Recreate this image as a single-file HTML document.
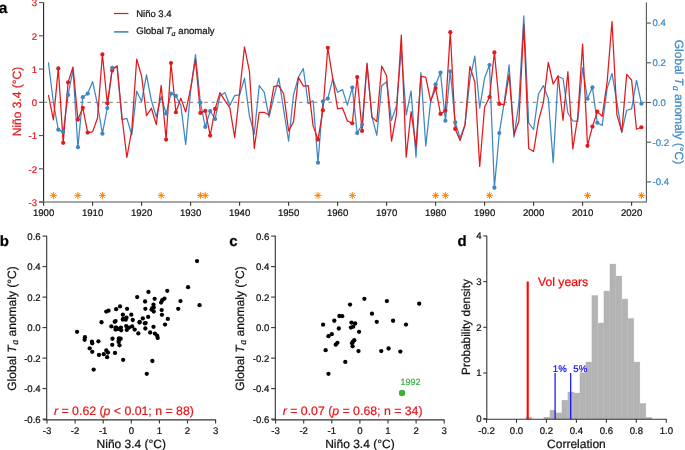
<!DOCTYPE html><html><head><meta charset="utf-8"><style>html,body{margin:0;padding:0;background:#fff;}svg{display:block;will-change:transform;}text{font-family:"Liberation Sans",sans-serif;text-rendering:geometricPrecision;}</style></head><body>
<svg width="685" height="450" viewBox="0 0 685 450">
<rect width="685" height="450" fill="#fff"/>
<text x="-1.2" y="12.9" font-size="15.5" font-weight="bold" fill="#000" stroke="#000" stroke-width="0.22">a</text>
<line x1="43.6" y1="102.3" x2="646.4" y2="102.3" stroke="#6e6e6e" stroke-width="0.9" stroke-dasharray="3.65 3.65"/>
<polyline points="48.5,62.8 53.4,102.5 58.3,129.69 63.2,131.88 68.1,94.96 73,69.95 77.9,147.16 82.8,97.14 87.7,93.57 92.6,81.66 97.5,104.48 102.4,133.66 107.3,108.06 112.2,67.96 117.1,66.77 122,119.57 126.9,118.38 131.8,135.05 136.7,91.19 141.6,101.51 146.5,74.91 151.4,100.52 156.3,116.99 161.2,96.55 166.1,113.62 171,93.57 175.9,95.95 180.8,105.08 185.7,144.38 190.6,90.59 195.5,54.66 200.4,102.5 205.3,126.92 210.2,111.04 215.1,118.98 220,95.95 224.9,92.58 229.8,105.48 234.7,95.55 239.6,94.96 244.5,78.08 249.4,116 254.3,134.06 259.2,85.63 264.1,91.98 269,116.99 273.9,96.94 278.8,78.08 283.7,110.04 288.6,141.01 293.5,94.96 298.4,77.09 303.3,68.56 308.2,103.69 313.1,100.91 318,162.65 322.9,101.31 327.8,98.53 332.7,79.08 337.6,92.18 342.5,89.6 347.4,105.08 352.3,87.61 357.2,133.07 362.1,124.73 367,64.78 371.9,116.39 376.8,135.45 381.7,85.83 386.6,81.66 391.5,120.36 396.4,106.07 401.3,49.9 406.2,115.01 411.1,90.99 416,157.09 420.9,72.53 425.8,145.97 430.7,100.91 435.6,84.44 440.5,72.53 445.4,120.76 450.3,71.34 455.2,122.35 460.1,138.03 465,124.93 469.9,79.67 474.8,56.05 479.7,108.06 484.6,78.08 489.5,64.98 494.4,187.66 499.3,133.07 504.2,102.5 509.1,64.98 514,137.04 518.9,102.5 523.8,15.95 528.7,122.95 533.6,129.5 538.5,93.96 543.4,85.63 548.3,98.53 553.2,162.65 558.1,76.5 563,78.48 567.9,113.02 572.8,120.76 577.7,121.36 582.6,67.96 587.5,98.73 592.4,87.41 597.3,122.75 602.2,125.53 607.1,88.61 612,73.32 616.9,102.5 621.8,132.28 626.7,110.24 631.6,108.85 636.5,80.47 641.4,103.69" fill="none" stroke="#3d87c4" stroke-width="1.25" stroke-linejoin="round" stroke-linecap="round"/>
<polyline points="48.5,95.32 53.4,119.92 58.3,68.38 63.2,142.87 68.1,82.35 73,67.05 77.9,119.59 82.8,107.95 87.7,132.56 92.6,131.89 97.5,117.93 102.4,54.42 107.3,103.3 112.2,70.38 117.1,65.72 122,117.26 126.9,157.5 131.8,129.9 136.7,59.07 141.6,76.03 146.5,115.6 151.4,108.28 156.3,124.58 161.2,85.34 166.1,139.54 171,63.06 175.9,112.27 180.8,98.31 185.7,111.94 190.6,88.67 195.5,59.74 200.4,112.94 205.3,110.94 210.2,135.55 215.1,108.95 220,92.66 224.9,100.64 229.8,107.62 234.7,137.55 239.6,92.33 244.5,46.77 249.4,71.05 254.3,148.52 259.2,112.27 264.1,112.27 269,114.94 273.9,86.34 278.8,85.67 283.7,93.99 288.6,130.89 293.5,121.92 298.4,77.36 303.3,86.01 308.2,85.67 313.1,125.91 318,139.54 322.9,110.28 327.8,47.77 332.7,78.36 337.6,108.95 342.5,107.95 347.4,120.92 352.3,123.25 357.2,77.03 362.1,130.89 367,63.06 371.9,116.93 376.8,121.58 381.7,66.06 386.6,75.7 391.5,141.2 396.4,114.27 401.3,35.13 406.2,157.16 411.1,111.61 416,146.85 420.9,76.03 425.8,77.36 430.7,101.3 435.6,88 440.5,113.94 445.4,110.61 450.3,32.14 455.2,128.9 460.1,140.54 465,124.91 469.9,66.39 474.8,82.02 479.7,166.47 484.6,107.29 489.5,96.98 494.4,52.42 499.3,103.96 504.2,104.96 509.1,74.7 514,134.88 518.9,120.92 523.8,24.5 528.7,148.52 533.6,151.51 538.5,120.92 543.4,102.3 548.3,62.4 553.2,84.01 558.1,75.7 563,120.25 567.9,71.71 572.8,148.85 577.7,117.26 582.6,44.11 587.5,145.86 592.4,126.57 597.3,111.61 602.2,116.27 607.1,82.35 612,21.5 616.9,114.6 621.8,131.89 626.7,74.37 631.6,80.02 636.5,129.23 641.4,127.24" fill="none" stroke="#e3191c" stroke-width="1.25" stroke-linejoin="round" stroke-linecap="round"/>
<circle cx="58.3" cy="68.38" r="2.1" fill="#e3191c"/>
<circle cx="63.2" cy="142.87" r="2.1" fill="#e3191c"/>
<circle cx="68.1" cy="82.35" r="2.1" fill="#e3191c"/>
<circle cx="77.9" cy="119.59" r="2.1" fill="#e3191c"/>
<circle cx="82.8" cy="107.95" r="2.1" fill="#e3191c"/>
<circle cx="87.7" cy="132.56" r="2.1" fill="#e3191c"/>
<circle cx="102.4" cy="54.42" r="2.1" fill="#e3191c"/>
<circle cx="107.3" cy="103.3" r="2.1" fill="#e3191c"/>
<circle cx="112.2" cy="70.38" r="2.1" fill="#e3191c"/>
<circle cx="166.1" cy="139.54" r="2.1" fill="#e3191c"/>
<circle cx="171" cy="63.06" r="2.1" fill="#e3191c"/>
<circle cx="175.9" cy="112.27" r="2.1" fill="#e3191c"/>
<circle cx="200.4" cy="112.94" r="2.1" fill="#e3191c"/>
<circle cx="205.3" cy="110.94" r="2.1" fill="#e3191c"/>
<circle cx="210.2" cy="135.55" r="2.1" fill="#e3191c"/>
<circle cx="215.1" cy="108.95" r="2.1" fill="#e3191c"/>
<circle cx="318" cy="139.54" r="2.1" fill="#e3191c"/>
<circle cx="322.9" cy="110.28" r="2.1" fill="#e3191c"/>
<circle cx="327.8" cy="47.77" r="2.1" fill="#e3191c"/>
<circle cx="352.3" cy="123.25" r="2.1" fill="#e3191c"/>
<circle cx="357.2" cy="77.03" r="2.1" fill="#e3191c"/>
<circle cx="362.1" cy="130.89" r="2.1" fill="#e3191c"/>
<circle cx="435.6" cy="88" r="2.1" fill="#e3191c"/>
<circle cx="440.5" cy="113.94" r="2.1" fill="#e3191c"/>
<circle cx="445.4" cy="110.61" r="2.1" fill="#e3191c"/>
<circle cx="450.3" cy="32.14" r="2.1" fill="#e3191c"/>
<circle cx="455.2" cy="128.9" r="2.1" fill="#e3191c"/>
<circle cx="489.5" cy="96.98" r="2.1" fill="#e3191c"/>
<circle cx="494.4" cy="52.42" r="2.1" fill="#e3191c"/>
<circle cx="499.3" cy="103.96" r="2.1" fill="#e3191c"/>
<circle cx="587.5" cy="145.86" r="2.1" fill="#e3191c"/>
<circle cx="592.4" cy="126.57" r="2.1" fill="#e3191c"/>
<circle cx="597.3" cy="111.61" r="2.1" fill="#e3191c"/>
<circle cx="641.4" cy="127.24" r="2.1" fill="#e3191c"/>
<circle cx="58.3" cy="129.69" r="2.1" fill="#3d87c4"/>
<circle cx="63.2" cy="131.88" r="2.1" fill="#3d87c4"/>
<circle cx="68.1" cy="94.96" r="2.1" fill="#3d87c4"/>
<circle cx="77.9" cy="147.16" r="2.1" fill="#3d87c4"/>
<circle cx="82.8" cy="97.14" r="2.1" fill="#3d87c4"/>
<circle cx="87.7" cy="93.57" r="2.1" fill="#3d87c4"/>
<circle cx="102.4" cy="133.66" r="2.1" fill="#3d87c4"/>
<circle cx="107.3" cy="108.06" r="2.1" fill="#3d87c4"/>
<circle cx="112.2" cy="67.96" r="2.1" fill="#3d87c4"/>
<circle cx="166.1" cy="113.62" r="2.1" fill="#3d87c4"/>
<circle cx="171" cy="93.57" r="2.1" fill="#3d87c4"/>
<circle cx="175.9" cy="95.95" r="2.1" fill="#3d87c4"/>
<circle cx="200.4" cy="102.5" r="2.1" fill="#3d87c4"/>
<circle cx="205.3" cy="126.92" r="2.1" fill="#3d87c4"/>
<circle cx="210.2" cy="111.04" r="2.1" fill="#3d87c4"/>
<circle cx="215.1" cy="118.98" r="2.1" fill="#3d87c4"/>
<circle cx="318" cy="162.65" r="2.1" fill="#3d87c4"/>
<circle cx="322.9" cy="101.31" r="2.1" fill="#3d87c4"/>
<circle cx="327.8" cy="98.53" r="2.1" fill="#3d87c4"/>
<circle cx="352.3" cy="87.61" r="2.1" fill="#3d87c4"/>
<circle cx="357.2" cy="133.07" r="2.1" fill="#3d87c4"/>
<circle cx="362.1" cy="124.73" r="2.1" fill="#3d87c4"/>
<circle cx="435.6" cy="84.44" r="2.1" fill="#3d87c4"/>
<circle cx="440.5" cy="72.53" r="2.1" fill="#3d87c4"/>
<circle cx="445.4" cy="120.76" r="2.1" fill="#3d87c4"/>
<circle cx="450.3" cy="71.34" r="2.1" fill="#3d87c4"/>
<circle cx="455.2" cy="122.35" r="2.1" fill="#3d87c4"/>
<circle cx="489.5" cy="64.98" r="2.1" fill="#3d87c4"/>
<circle cx="494.4" cy="187.66" r="2.1" fill="#3d87c4"/>
<circle cx="499.3" cy="133.07" r="2.1" fill="#3d87c4"/>
<circle cx="587.5" cy="98.73" r="2.1" fill="#3d87c4"/>
<circle cx="592.4" cy="87.41" r="2.1" fill="#3d87c4"/>
<circle cx="597.3" cy="122.75" r="2.1" fill="#3d87c4"/>
<circle cx="641.4" cy="103.69" r="2.1" fill="#3d87c4"/>
<path d="M49.90 195.40L56.90 195.40M50.93 192.93L55.87 197.87M53.40 191.90L53.40 198.90M55.87 192.93L50.93 197.87" stroke="#ff8000" stroke-width="1.0" fill="none"/>
<path d="M74.40 195.40L81.40 195.40M75.43 192.93L80.37 197.87M77.90 191.90L77.90 198.90M80.37 192.93L75.43 197.87" stroke="#ff8000" stroke-width="1.0" fill="none"/>
<path d="M98.90 195.40L105.90 195.40M99.93 192.93L104.87 197.87M102.40 191.90L102.40 198.90M104.87 192.93L99.93 197.87" stroke="#ff8000" stroke-width="1.0" fill="none"/>
<path d="M157.70 195.40L164.70 195.40M158.73 192.93L163.67 197.87M161.20 191.90L161.20 198.90M163.67 192.93L158.73 197.87" stroke="#ff8000" stroke-width="1.0" fill="none"/>
<path d="M196.90 195.40L203.90 195.40M197.93 192.93L202.87 197.87M200.40 191.90L200.40 198.90M202.87 192.93L197.93 197.87" stroke="#ff8000" stroke-width="1.0" fill="none"/>
<path d="M201.80 195.40L208.80 195.40M202.83 192.93L207.77 197.87M205.30 191.90L205.30 198.90M207.77 192.93L202.83 197.87" stroke="#ff8000" stroke-width="1.0" fill="none"/>
<path d="M314.50 195.40L321.50 195.40M315.53 192.93L320.47 197.87M318.00 191.90L318.00 198.90M320.47 192.93L315.53 197.87" stroke="#ff8000" stroke-width="1.0" fill="none"/>
<path d="M348.80 195.40L355.80 195.40M349.83 192.93L354.77 197.87M352.30 191.90L352.30 198.90M354.77 192.93L349.83 197.87" stroke="#ff8000" stroke-width="1.0" fill="none"/>
<path d="M432.10 195.40L439.10 195.40M433.13 192.93L438.07 197.87M435.60 191.90L435.60 198.90M438.07 192.93L433.13 197.87" stroke="#ff8000" stroke-width="1.0" fill="none"/>
<path d="M441.90 195.40L448.90 195.40M442.93 192.93L447.87 197.87M445.40 191.90L445.40 198.90M447.87 192.93L442.93 197.87" stroke="#ff8000" stroke-width="1.0" fill="none"/>
<path d="M486.00 195.40L493.00 195.40M487.03 192.93L491.97 197.87M489.50 191.90L489.50 198.90M491.97 192.93L487.03 197.87" stroke="#ff8000" stroke-width="1.0" fill="none"/>
<path d="M584.00 195.40L591.00 195.40M585.03 192.93L589.97 197.87M587.50 191.90L587.50 198.90M589.97 192.93L585.03 197.87" stroke="#ff8000" stroke-width="1.0" fill="none"/>
<path d="M637.90 195.40L644.90 195.40M638.93 192.93L643.87 197.87M641.40 191.90L641.40 198.90M643.87 192.93L638.93 197.87" stroke="#ff8000" stroke-width="1.0" fill="none"/>
<line x1="43.6" y1="2.5" x2="43.6" y2="202.5" stroke="#222" stroke-width="1.1"/>
<line x1="646.4" y1="2.5" x2="646.4" y2="202.5" stroke="#555" stroke-width="1.1"/>
<line x1="39" y1="202" x2="646.9" y2="202" stroke="#8a8a8a" stroke-width="1.6"/>
<line x1="39" y1="2.55" x2="43.6" y2="2.55" stroke="#555" stroke-width="1.1"/>
<text x="37" y="6.35" font-size="9.6" fill="#e3191c" text-anchor="end" stroke="#e3191c" stroke-width="0.22">3</text>
<line x1="39" y1="35.8" x2="43.6" y2="35.8" stroke="#555" stroke-width="1.1"/>
<text x="37" y="39.6" font-size="9.6" fill="#e3191c" text-anchor="end" stroke="#e3191c" stroke-width="0.22">2</text>
<line x1="39" y1="69.05" x2="43.6" y2="69.05" stroke="#555" stroke-width="1.1"/>
<text x="37" y="72.85" font-size="9.6" fill="#e3191c" text-anchor="end" stroke="#e3191c" stroke-width="0.22">1</text>
<line x1="39" y1="102.3" x2="43.6" y2="102.3" stroke="#555" stroke-width="1.1"/>
<text x="37" y="106.1" font-size="9.6" fill="#e3191c" text-anchor="end" stroke="#e3191c" stroke-width="0.22">0</text>
<line x1="39" y1="135.55" x2="43.6" y2="135.55" stroke="#555" stroke-width="1.1"/>
<text x="37" y="139.35" font-size="9.6" fill="#e3191c" text-anchor="end" stroke="#e3191c" stroke-width="0.22">-1</text>
<line x1="39" y1="168.8" x2="43.6" y2="168.8" stroke="#555" stroke-width="1.1"/>
<text x="37" y="172.6" font-size="9.6" fill="#e3191c" text-anchor="end" stroke="#e3191c" stroke-width="0.22">-2</text>
<line x1="39" y1="202.05" x2="43.6" y2="202.05" stroke="#555" stroke-width="1.1"/>
<text x="37" y="205.85" font-size="9.6" fill="#e3191c" text-anchor="end" stroke="#e3191c" stroke-width="0.22">-3</text>
<line x1="646.4" y1="23.1" x2="651" y2="23.1" stroke="#555" stroke-width="1.1"/>
<text x="652.5" y="26.4" font-size="9.6" fill="#3d87c4" stroke="#3d87c4" stroke-width="0.22">0.4</text>
<line x1="646.4" y1="62.8" x2="651" y2="62.8" stroke="#555" stroke-width="1.1"/>
<text x="652.5" y="66.1" font-size="9.6" fill="#3d87c4" stroke="#3d87c4" stroke-width="0.22">0.2</text>
<line x1="646.4" y1="102.5" x2="651" y2="102.5" stroke="#555" stroke-width="1.1"/>
<text x="652.5" y="105.8" font-size="9.6" fill="#3d87c4" stroke="#3d87c4" stroke-width="0.22">0.0</text>
<line x1="646.4" y1="142.2" x2="651" y2="142.2" stroke="#555" stroke-width="1.1"/>
<text x="652.5" y="145.5" font-size="9.6" fill="#3d87c4" stroke="#3d87c4" stroke-width="0.22">-0.2</text>
<line x1="646.4" y1="181.9" x2="651" y2="181.9" stroke="#555" stroke-width="1.1"/>
<text x="652.5" y="185.2" font-size="9.6" fill="#3d87c4" stroke="#3d87c4" stroke-width="0.22">-0.4</text>
<line x1="43.6" y1="202" x2="43.6" y2="205.8" stroke="#333" stroke-width="1.1"/>
<text x="43.6" y="216.3" font-size="9.6" fill="#111" text-anchor="middle" stroke="#111" stroke-width="0.22">1900</text>
<line x1="92.6" y1="202" x2="92.6" y2="205.8" stroke="#333" stroke-width="1.1"/>
<text x="92.6" y="216.3" font-size="9.6" fill="#111" text-anchor="middle" stroke="#111" stroke-width="0.22">1910</text>
<line x1="141.6" y1="202" x2="141.6" y2="205.8" stroke="#333" stroke-width="1.1"/>
<text x="141.6" y="216.3" font-size="9.6" fill="#111" text-anchor="middle" stroke="#111" stroke-width="0.22">1920</text>
<line x1="190.6" y1="202" x2="190.6" y2="205.8" stroke="#333" stroke-width="1.1"/>
<text x="190.6" y="216.3" font-size="9.6" fill="#111" text-anchor="middle" stroke="#111" stroke-width="0.22">1930</text>
<line x1="239.6" y1="202" x2="239.6" y2="205.8" stroke="#333" stroke-width="1.1"/>
<text x="239.6" y="216.3" font-size="9.6" fill="#111" text-anchor="middle" stroke="#111" stroke-width="0.22">1940</text>
<line x1="288.6" y1="202" x2="288.6" y2="205.8" stroke="#333" stroke-width="1.1"/>
<text x="288.6" y="216.3" font-size="9.6" fill="#111" text-anchor="middle" stroke="#111" stroke-width="0.22">1950</text>
<line x1="337.6" y1="202" x2="337.6" y2="205.8" stroke="#333" stroke-width="1.1"/>
<text x="337.6" y="216.3" font-size="9.6" fill="#111" text-anchor="middle" stroke="#111" stroke-width="0.22">1960</text>
<line x1="386.6" y1="202" x2="386.6" y2="205.8" stroke="#333" stroke-width="1.1"/>
<text x="386.6" y="216.3" font-size="9.6" fill="#111" text-anchor="middle" stroke="#111" stroke-width="0.22">1970</text>
<line x1="435.6" y1="202" x2="435.6" y2="205.8" stroke="#333" stroke-width="1.1"/>
<text x="435.6" y="216.3" font-size="9.6" fill="#111" text-anchor="middle" stroke="#111" stroke-width="0.22">1980</text>
<line x1="484.6" y1="202" x2="484.6" y2="205.8" stroke="#333" stroke-width="1.1"/>
<text x="484.6" y="216.3" font-size="9.6" fill="#111" text-anchor="middle" stroke="#111" stroke-width="0.22">1990</text>
<line x1="533.6" y1="202" x2="533.6" y2="205.8" stroke="#333" stroke-width="1.1"/>
<text x="533.6" y="216.3" font-size="9.6" fill="#111" text-anchor="middle" stroke="#111" stroke-width="0.22">2000</text>
<line x1="582.6" y1="202" x2="582.6" y2="205.8" stroke="#333" stroke-width="1.1"/>
<text x="582.6" y="216.3" font-size="9.6" fill="#111" text-anchor="middle" stroke="#111" stroke-width="0.22">2010</text>
<line x1="631.6" y1="202" x2="631.6" y2="205.8" stroke="#333" stroke-width="1.1"/>
<text x="631.6" y="216.3" font-size="9.6" fill="#111" text-anchor="middle" stroke="#111" stroke-width="0.22">2020</text>
<text transform="translate(21.2,101.5) rotate(-90)" font-size="12" fill="#e3191c" text-anchor="middle" stroke="#e3191c" stroke-width="0.22">Niño 3.4 (°C)</text>
<text transform="translate(675,102) rotate(90)" font-size="12" fill="#3d87c4" text-anchor="middle" stroke="#3d87c4" stroke-width="0.22">Global <tspan font-style="italic">T</tspan><tspan font-family="Liberation Serif" font-style="italic" font-size="10" dy="2" dx="0.6">a</tspan><tspan dy="-2"> anomaly (°C)</tspan></text>
<line x1="114" y1="13.5" x2="128.4" y2="13.5" stroke="#e3191c" stroke-width="1.25"/>
<line x1="114" y1="31.9" x2="128.4" y2="31.9" stroke="#3d87c4" stroke-width="1.6"/>
<text x="136.2" y="16.8" font-size="9.5" fill="#111" stroke="#111" stroke-width="0.22">Niño 3.4</text>
<text x="136.2" y="34.2" font-size="9.6" fill="#111" stroke="#111" stroke-width="0.22">Global <tspan font-style="italic" dx="-0.9">T</tspan><tspan font-family="Liberation Serif" font-style="italic" font-size="8.2" dy="1.6" dx="0">a</tspan><tspan dy="-1.5"> anomaly</tspan></text>
<text x="-0.2" y="245.6" font-size="15" font-weight="bold" fill="#000" stroke="#000" stroke-width="0.22">b</text>
<line x1="46.7" y1="235.7" x2="46.7" y2="420" stroke="#333" stroke-width="1.1"/>
<line x1="43.2" y1="419.9" x2="216.1" y2="419.9" stroke="#333" stroke-width="1.1"/>
<line x1="42.5" y1="236.1" x2="46.7" y2="236.1" stroke="#333" stroke-width="1.1"/>
<text x="40.7" y="239.5" font-size="9.6" fill="#111" text-anchor="end" stroke="#111" stroke-width="0.22">0.6</text>
<line x1="42.5" y1="266.6" x2="46.7" y2="266.6" stroke="#333" stroke-width="1.1"/>
<text x="40.7" y="270" font-size="9.6" fill="#111" text-anchor="end" stroke="#111" stroke-width="0.22">0.4</text>
<line x1="42.5" y1="297.1" x2="46.7" y2="297.1" stroke="#333" stroke-width="1.1"/>
<text x="40.7" y="300.5" font-size="9.6" fill="#111" text-anchor="end" stroke="#111" stroke-width="0.22">0.2</text>
<line x1="42.5" y1="327.6" x2="46.7" y2="327.6" stroke="#333" stroke-width="1.1"/>
<text x="40.7" y="331" font-size="9.6" fill="#111" text-anchor="end" stroke="#111" stroke-width="0.22">0.0</text>
<line x1="42.5" y1="358.1" x2="46.7" y2="358.1" stroke="#333" stroke-width="1.1"/>
<text x="40.7" y="361.5" font-size="9.6" fill="#111" text-anchor="end" stroke="#111" stroke-width="0.22">-0.2</text>
<line x1="42.5" y1="388.6" x2="46.7" y2="388.6" stroke="#333" stroke-width="1.1"/>
<text x="40.7" y="392" font-size="9.6" fill="#111" text-anchor="end" stroke="#111" stroke-width="0.22">-0.4</text>
<line x1="42.5" y1="419.1" x2="46.7" y2="419.1" stroke="#333" stroke-width="1.1"/>
<text x="40.7" y="422.5" font-size="9.6" fill="#111" text-anchor="end" stroke="#111" stroke-width="0.22">-0.6</text>
<line x1="47" y1="419.9" x2="47" y2="423.5" stroke="#333" stroke-width="1.1"/>
<text x="47" y="433.8" font-size="9.6" fill="#111" text-anchor="middle" stroke="#111" stroke-width="0.22">-3</text>
<line x1="75.1" y1="419.9" x2="75.1" y2="423.5" stroke="#333" stroke-width="1.1"/>
<text x="75.1" y="433.8" font-size="9.6" fill="#111" text-anchor="middle" stroke="#111" stroke-width="0.22">-2</text>
<line x1="103.2" y1="419.9" x2="103.2" y2="423.5" stroke="#333" stroke-width="1.1"/>
<text x="103.2" y="433.8" font-size="9.6" fill="#111" text-anchor="middle" stroke="#111" stroke-width="0.22">-1</text>
<line x1="131.3" y1="419.9" x2="131.3" y2="423.5" stroke="#333" stroke-width="1.1"/>
<text x="131.3" y="433.8" font-size="9.6" fill="#111" text-anchor="middle" stroke="#111" stroke-width="0.22">0</text>
<line x1="159.4" y1="419.9" x2="159.4" y2="423.5" stroke="#333" stroke-width="1.1"/>
<text x="159.4" y="433.8" font-size="9.6" fill="#111" text-anchor="middle" stroke="#111" stroke-width="0.22">1</text>
<line x1="187.5" y1="419.9" x2="187.5" y2="423.5" stroke="#333" stroke-width="1.1"/>
<text x="187.5" y="433.8" font-size="9.6" fill="#111" text-anchor="middle" stroke="#111" stroke-width="0.22">2</text>
<line x1="215.6" y1="419.9" x2="215.6" y2="423.5" stroke="#333" stroke-width="1.1"/>
<text x="215.6" y="433.8" font-size="9.6" fill="#111" text-anchor="middle" stroke="#111" stroke-width="0.22">3</text>
<text x="131.3" y="447.5" font-size="12" fill="#111" text-anchor="middle" stroke="#111" stroke-width="0.22">Niño 3.4 (°C)</text>
<text transform="translate(15.5,328.5) rotate(-90)" font-size="12" fill="#111" text-anchor="middle" stroke="#111" stroke-width="0.22">Global <tspan font-style="italic">T</tspan><tspan font-family="Liberation Serif" font-style="italic" font-size="10" dy="2" dx="0.6">a</tspan><tspan dy="-2"> anomaly (°C)</tspan></text>
<circle cx="137.2" cy="297.1" r="2.15" fill="#000"/>
<circle cx="116.41" cy="327.6" r="2.15" fill="#000"/>
<circle cx="161.09" cy="302.59" r="2.15" fill="#000"/>
<circle cx="106.29" cy="311.59" r="2.15" fill="#000"/>
<circle cx="118.09" cy="329.12" r="2.15" fill="#000"/>
<circle cx="162.21" cy="300.15" r="2.15" fill="#000"/>
<circle cx="118.66" cy="340.72" r="2.15" fill="#000"/>
<circle cx="84.65" cy="339.8" r="2.15" fill="#000"/>
<circle cx="107.98" cy="352.61" r="2.15" fill="#000"/>
<circle cx="167.83" cy="318.91" r="2.15" fill="#000"/>
<circle cx="153.5" cy="326.84" r="2.15" fill="#000"/>
<circle cx="120.06" cy="306.4" r="2.15" fill="#000"/>
<circle cx="126.24" cy="326.08" r="2.15" fill="#000"/>
<circle cx="112.47" cy="338.73" r="2.15" fill="#000"/>
<circle cx="145.63" cy="323.03" r="2.15" fill="#000"/>
<circle cx="134.67" cy="329.58" r="2.15" fill="#000"/>
<circle cx="123.15" cy="359.78" r="2.15" fill="#000"/>
<circle cx="142.82" cy="318.45" r="2.15" fill="#000"/>
<circle cx="167.27" cy="290.85" r="2.15" fill="#000"/>
<circle cx="139.45" cy="322.57" r="2.15" fill="#000"/>
<circle cx="132.71" cy="319.98" r="2.15" fill="#000"/>
<circle cx="126.8" cy="329.89" r="2.15" fill="#000"/>
<circle cx="101.51" cy="322.26" r="2.15" fill="#000"/>
<circle cx="139.73" cy="321.81" r="2.15" fill="#000"/>
<circle cx="178.23" cy="308.84" r="2.15" fill="#000"/>
<circle cx="157.71" cy="337.97" r="2.15" fill="#000"/>
<circle cx="92.24" cy="351.85" r="2.15" fill="#000"/>
<circle cx="122.87" cy="314.64" r="2.15" fill="#000"/>
<circle cx="122.87" cy="319.52" r="2.15" fill="#000"/>
<circle cx="120.62" cy="338.73" r="2.15" fill="#000"/>
<circle cx="144.79" cy="323.33" r="2.15" fill="#000"/>
<circle cx="145.35" cy="308.84" r="2.15" fill="#000"/>
<circle cx="138.33" cy="333.4" r="2.15" fill="#000"/>
<circle cx="107.13" cy="357.19" r="2.15" fill="#000"/>
<circle cx="114.72" cy="321.81" r="2.15" fill="#000"/>
<circle cx="152.38" cy="308.08" r="2.15" fill="#000"/>
<circle cx="145.07" cy="301.52" r="2.15" fill="#000"/>
<circle cx="145.35" cy="328.52" r="2.15" fill="#000"/>
<circle cx="111.35" cy="326.38" r="2.15" fill="#000"/>
<circle cx="151.53" cy="309.61" r="2.15" fill="#000"/>
<circle cx="125.68" cy="319.67" r="2.15" fill="#000"/>
<circle cx="126.52" cy="317.69" r="2.15" fill="#000"/>
<circle cx="115.56" cy="329.58" r="2.15" fill="#000"/>
<circle cx="164.46" cy="298.62" r="2.15" fill="#000"/>
<circle cx="118.94" cy="338.28" r="2.15" fill="#000"/>
<circle cx="115" cy="352.92" r="2.15" fill="#000"/>
<circle cx="161.93" cy="314.79" r="2.15" fill="#000"/>
<circle cx="153.78" cy="311.59" r="2.15" fill="#000"/>
<circle cx="98.42" cy="341.33" r="2.15" fill="#000"/>
<circle cx="121.18" cy="330.35" r="2.15" fill="#000"/>
<circle cx="188.06" cy="287.19" r="2.15" fill="#000"/>
<circle cx="84.94" cy="337.21" r="2.15" fill="#000"/>
<circle cx="123.43" cy="318.75" r="2.15" fill="#000"/>
<circle cx="93.65" cy="369.54" r="2.15" fill="#000"/>
<circle cx="153.5" cy="304.57" r="2.15" fill="#000"/>
<circle cx="152.38" cy="361" r="2.15" fill="#000"/>
<circle cx="132.14" cy="326.38" r="2.15" fill="#000"/>
<circle cx="98.99" cy="354.9" r="2.15" fill="#000"/>
<circle cx="112.19" cy="344.83" r="2.15" fill="#000"/>
<circle cx="161.65" cy="310.06" r="2.15" fill="#000"/>
<circle cx="148.44" cy="291.92" r="2.15" fill="#000"/>
<circle cx="77.07" cy="331.87" r="2.15" fill="#000"/>
<circle cx="127.09" cy="308.84" r="2.15" fill="#000"/>
<circle cx="129.05" cy="327.6" r="2.15" fill="#000"/>
<circle cx="154.62" cy="298.78" r="2.15" fill="#000"/>
<circle cx="103.76" cy="354.13" r="2.15" fill="#000"/>
<circle cx="115.56" cy="327.6" r="2.15" fill="#000"/>
<circle cx="197.05" cy="261.11" r="2.15" fill="#000"/>
<circle cx="92.24" cy="343.31" r="2.15" fill="#000"/>
<circle cx="89.71" cy="348.34" r="2.15" fill="#000"/>
<circle cx="115.56" cy="321.04" r="2.15" fill="#000"/>
<circle cx="131.3" cy="314.64" r="2.15" fill="#000"/>
<circle cx="165.02" cy="324.55" r="2.15" fill="#000"/>
<circle cx="146.76" cy="373.81" r="2.15" fill="#000"/>
<circle cx="153.78" cy="307.62" r="2.15" fill="#000"/>
<circle cx="116.13" cy="309.15" r="2.15" fill="#000"/>
<circle cx="157.15" cy="335.68" r="2.15" fill="#000"/>
<circle cx="91.96" cy="341.63" r="2.15" fill="#000"/>
<circle cx="118.66" cy="342.09" r="2.15" fill="#000"/>
<circle cx="180.48" cy="301.07" r="2.15" fill="#000"/>
<circle cx="119.5" cy="345.29" r="2.15" fill="#000"/>
<circle cx="148.16" cy="316.93" r="2.15" fill="#000"/>
<circle cx="199.58" cy="305.18" r="2.15" fill="#000"/>
<circle cx="120.9" cy="327.6" r="2.15" fill="#000"/>
<circle cx="106.29" cy="350.48" r="2.15" fill="#000"/>
<circle cx="154.9" cy="333.55" r="2.15" fill="#000"/>
<circle cx="150.13" cy="332.48" r="2.15" fill="#000"/>
<circle cx="108.54" cy="310.67" r="2.15" fill="#000"/>
<text x="54" y="414.6" font-size="12.3" fill="#e3191c" stroke="#e3191c" stroke-width="0.22"><tspan font-style="italic">r</tspan> = 0.62 (<tspan font-style="italic">p</tspan> &lt; 0.01; n = 88)</text>
<text x="229.2" y="245.6" font-size="15" font-weight="bold" fill="#000" stroke="#000" stroke-width="0.22">c</text>
<line x1="275.3" y1="235.7" x2="275.3" y2="420" stroke="#333" stroke-width="1.1"/>
<line x1="271.8" y1="419.9" x2="444.7" y2="419.9" stroke="#333" stroke-width="1.1"/>
<line x1="271.1" y1="236.1" x2="275.3" y2="236.1" stroke="#333" stroke-width="1.1"/>
<text x="269.3" y="239.5" font-size="9.6" fill="#111" text-anchor="end" stroke="#111" stroke-width="0.22">0.6</text>
<line x1="271.1" y1="266.6" x2="275.3" y2="266.6" stroke="#333" stroke-width="1.1"/>
<text x="269.3" y="270" font-size="9.6" fill="#111" text-anchor="end" stroke="#111" stroke-width="0.22">0.4</text>
<line x1="271.1" y1="297.1" x2="275.3" y2="297.1" stroke="#333" stroke-width="1.1"/>
<text x="269.3" y="300.5" font-size="9.6" fill="#111" text-anchor="end" stroke="#111" stroke-width="0.22">0.2</text>
<line x1="271.1" y1="327.6" x2="275.3" y2="327.6" stroke="#333" stroke-width="1.1"/>
<text x="269.3" y="331" font-size="9.6" fill="#111" text-anchor="end" stroke="#111" stroke-width="0.22">0.0</text>
<line x1="271.1" y1="358.1" x2="275.3" y2="358.1" stroke="#333" stroke-width="1.1"/>
<text x="269.3" y="361.5" font-size="9.6" fill="#111" text-anchor="end" stroke="#111" stroke-width="0.22">-0.2</text>
<line x1="271.1" y1="388.6" x2="275.3" y2="388.6" stroke="#333" stroke-width="1.1"/>
<text x="269.3" y="392" font-size="9.6" fill="#111" text-anchor="end" stroke="#111" stroke-width="0.22">-0.4</text>
<line x1="271.1" y1="419.1" x2="275.3" y2="419.1" stroke="#333" stroke-width="1.1"/>
<text x="269.3" y="422.5" font-size="9.6" fill="#111" text-anchor="end" stroke="#111" stroke-width="0.22">-0.6</text>
<line x1="275.6" y1="419.9" x2="275.6" y2="423.5" stroke="#333" stroke-width="1.1"/>
<text x="275.6" y="433.8" font-size="9.6" fill="#111" text-anchor="middle" stroke="#111" stroke-width="0.22">-3</text>
<line x1="303.7" y1="419.9" x2="303.7" y2="423.5" stroke="#333" stroke-width="1.1"/>
<text x="303.7" y="433.8" font-size="9.6" fill="#111" text-anchor="middle" stroke="#111" stroke-width="0.22">-2</text>
<line x1="331.8" y1="419.9" x2="331.8" y2="423.5" stroke="#333" stroke-width="1.1"/>
<text x="331.8" y="433.8" font-size="9.6" fill="#111" text-anchor="middle" stroke="#111" stroke-width="0.22">-1</text>
<line x1="359.9" y1="419.9" x2="359.9" y2="423.5" stroke="#333" stroke-width="1.1"/>
<text x="359.9" y="433.8" font-size="9.6" fill="#111" text-anchor="middle" stroke="#111" stroke-width="0.22">0</text>
<line x1="388" y1="419.9" x2="388" y2="423.5" stroke="#333" stroke-width="1.1"/>
<text x="388" y="433.8" font-size="9.6" fill="#111" text-anchor="middle" stroke="#111" stroke-width="0.22">1</text>
<line x1="416.1" y1="419.9" x2="416.1" y2="423.5" stroke="#333" stroke-width="1.1"/>
<text x="416.1" y="433.8" font-size="9.6" fill="#111" text-anchor="middle" stroke="#111" stroke-width="0.22">2</text>
<line x1="444.2" y1="419.9" x2="444.2" y2="423.5" stroke="#333" stroke-width="1.1"/>
<text x="444.2" y="433.8" font-size="9.6" fill="#111" text-anchor="middle" stroke="#111" stroke-width="0.22">3</text>
<text x="359.9" y="447.5" font-size="12" fill="#111" text-anchor="middle" stroke="#111" stroke-width="0.22">Niño 3.4 (°C)</text>
<text transform="translate(244.1,328.5) rotate(-90)" font-size="12" fill="#111" text-anchor="middle" stroke="#111" stroke-width="0.22">Global <tspan font-style="italic">T</tspan><tspan font-family="Liberation Serif" font-style="italic" font-size="10" dy="2" dx="0.6">a</tspan><tspan dy="-2"> anomaly (°C)</tspan></text>
<circle cx="388.56" cy="348.49" r="2.15" fill="#000"/>
<circle cx="325.62" cy="350.17" r="2.15" fill="#000"/>
<circle cx="376.76" cy="321.81" r="2.15" fill="#000"/>
<circle cx="345.29" cy="361.91" r="2.15" fill="#000"/>
<circle cx="355.12" cy="323.48" r="2.15" fill="#000"/>
<circle cx="334.33" cy="320.74" r="2.15" fill="#000"/>
<circle cx="400.36" cy="351.54" r="2.15" fill="#000"/>
<circle cx="359.06" cy="331.87" r="2.15" fill="#000"/>
<circle cx="386.88" cy="301.07" r="2.15" fill="#000"/>
<circle cx="328.43" cy="336.14" r="2.15" fill="#000"/>
<circle cx="393.06" cy="320.74" r="2.15" fill="#000"/>
<circle cx="351.47" cy="322.57" r="2.15" fill="#000"/>
<circle cx="350.91" cy="327.6" r="2.15" fill="#000"/>
<circle cx="352.59" cy="346.36" r="2.15" fill="#000"/>
<circle cx="331.8" cy="334.16" r="2.15" fill="#000"/>
<circle cx="354.28" cy="340.26" r="2.15" fill="#000"/>
<circle cx="328.43" cy="373.81" r="2.15" fill="#000"/>
<circle cx="353.16" cy="326.69" r="2.15" fill="#000"/>
<circle cx="405.98" cy="324.55" r="2.15" fill="#000"/>
<circle cx="342.2" cy="316.16" r="2.15" fill="#000"/>
<circle cx="381.26" cy="351.09" r="2.15" fill="#000"/>
<circle cx="335.73" cy="344.68" r="2.15" fill="#000"/>
<circle cx="371.98" cy="313.72" r="2.15" fill="#000"/>
<circle cx="350.06" cy="304.57" r="2.15" fill="#000"/>
<circle cx="352.88" cy="341.63" r="2.15" fill="#000"/>
<circle cx="419.19" cy="303.66" r="2.15" fill="#000"/>
<circle cx="337.42" cy="342.85" r="2.15" fill="#000"/>
<circle cx="364.4" cy="298.78" r="2.15" fill="#000"/>
<circle cx="358.5" cy="351.09" r="2.15" fill="#000"/>
<circle cx="323.09" cy="324.7" r="2.15" fill="#000"/>
<circle cx="339.39" cy="316.01" r="2.15" fill="#000"/>
<circle cx="352.03" cy="343.16" r="2.15" fill="#000"/>
<circle cx="338.82" cy="328.52" r="2.15" fill="#000"/>
<circle cx="402.05" cy="393.02" r="3.2" fill="#3cb043"/>
<text x="410.55" y="384.7" font-size="9" fill="#3cb043" text-anchor="middle" stroke="#3cb043" stroke-width="0.22">1992</text>
<text x="282.7" y="414.6" font-size="12.3" fill="#e3191c" stroke="#e3191c" stroke-width="0.22"><tspan font-style="italic">r</tspan> = 0.07 (<tspan font-style="italic">p</tspan> = 0.68; n = 34)</text>
<text x="457.6" y="245.6" font-size="15" font-weight="bold" fill="#000" stroke="#000" stroke-width="0.22">d</text>
<rect x="525.9" y="417.1" width="6.0" height="2.1" fill="#b3b3b3" stroke="#bcbcbc" stroke-width="0.3"/>
<rect x="543.9" y="417.1" width="6.0" height="2.1" fill="#b3b3b3" stroke="#bcbcbc" stroke-width="0.3"/>
<rect x="549.9" y="410.1" width="6.0" height="9.1" fill="#b3b3b3" stroke="#bcbcbc" stroke-width="0.3"/>
<rect x="555.9" y="412.9" width="6.0" height="6.3" fill="#b3b3b3" stroke="#bcbcbc" stroke-width="0.3"/>
<rect x="561.9" y="400.1" width="6.0" height="19.1" fill="#b3b3b3" stroke="#bcbcbc" stroke-width="0.3"/>
<rect x="567.9" y="392" width="6.0" height="27.2" fill="#b3b3b3" stroke="#bcbcbc" stroke-width="0.3"/>
<rect x="573.9" y="393" width="6.0" height="26.2" fill="#b3b3b3" stroke="#bcbcbc" stroke-width="0.3"/>
<rect x="579.9" y="372.6" width="6.0" height="46.6" fill="#b3b3b3" stroke="#bcbcbc" stroke-width="0.3"/>
<rect x="585.9" y="362" width="6.0" height="57.2" fill="#b3b3b3" stroke="#bcbcbc" stroke-width="0.3"/>
<rect x="591.9" y="295.4" width="6.0" height="123.8" fill="#b3b3b3" stroke="#bcbcbc" stroke-width="0.3"/>
<rect x="597.9" y="323" width="6.0" height="96.2" fill="#b3b3b3" stroke="#bcbcbc" stroke-width="0.3"/>
<rect x="603.9" y="291" width="6.0" height="128.2" fill="#b3b3b3" stroke="#bcbcbc" stroke-width="0.3"/>
<rect x="609.9" y="264" width="6.0" height="155.2" fill="#b3b3b3" stroke="#bcbcbc" stroke-width="0.3"/>
<rect x="615.9" y="276" width="6.0" height="143.2" fill="#b3b3b3" stroke="#bcbcbc" stroke-width="0.3"/>
<rect x="621.9" y="299" width="6.0" height="120.2" fill="#b3b3b3" stroke="#bcbcbc" stroke-width="0.3"/>
<rect x="627.9" y="318.4" width="6.0" height="100.8" fill="#b3b3b3" stroke="#bcbcbc" stroke-width="0.3"/>
<rect x="633.9" y="362" width="6.0" height="57.2" fill="#b3b3b3" stroke="#bcbcbc" stroke-width="0.3"/>
<rect x="639.9" y="403.3" width="6.0" height="15.9" fill="#b3b3b3" stroke="#bcbcbc" stroke-width="0.3"/>
<rect x="645.9" y="417.3" width="6.0" height="1.9" fill="#b3b3b3" stroke="#bcbcbc" stroke-width="0.3"/>
<line x1="486.8" y1="235.7" x2="486.8" y2="419.7" stroke="#333" stroke-width="1.1"/>
<line x1="483.3" y1="419.2" x2="666.7" y2="419.2" stroke="#333" stroke-width="1.1"/>
<line x1="483.3" y1="418.7" x2="486.8" y2="418.7" stroke="#333" stroke-width="1.1"/>
<text x="481.5" y="422.1" font-size="9.6" fill="#111" text-anchor="end" stroke="#111" stroke-width="0.22">0</text>
<line x1="483.3" y1="373" x2="486.8" y2="373" stroke="#333" stroke-width="1.1"/>
<text x="481.5" y="376.4" font-size="9.6" fill="#111" text-anchor="end" stroke="#111" stroke-width="0.22">1</text>
<line x1="483.3" y1="327.3" x2="486.8" y2="327.3" stroke="#333" stroke-width="1.1"/>
<text x="481.5" y="330.7" font-size="9.6" fill="#111" text-anchor="end" stroke="#111" stroke-width="0.22">2</text>
<line x1="483.3" y1="281.6" x2="486.8" y2="281.6" stroke="#333" stroke-width="1.1"/>
<text x="481.5" y="285" font-size="9.6" fill="#111" text-anchor="end" stroke="#111" stroke-width="0.22">3</text>
<line x1="483.3" y1="235.9" x2="486.8" y2="235.9" stroke="#333" stroke-width="1.1"/>
<text x="481.5" y="239.3" font-size="9.6" fill="#111" text-anchor="end" stroke="#111" stroke-width="0.22">4</text>
<line x1="486.54" y1="419.2" x2="486.54" y2="422.8" stroke="#333" stroke-width="1.1"/>
<text x="486.54" y="433.8" font-size="9.6" fill="#111" text-anchor="middle" stroke="#111" stroke-width="0.22">-0.2</text>
<line x1="516.5" y1="419.2" x2="516.5" y2="422.8" stroke="#333" stroke-width="1.1"/>
<text x="516.5" y="433.8" font-size="9.6" fill="#111" text-anchor="middle" stroke="#111" stroke-width="0.22">0.0</text>
<line x1="546.46" y1="419.2" x2="546.46" y2="422.8" stroke="#333" stroke-width="1.1"/>
<text x="546.46" y="433.8" font-size="9.6" fill="#111" text-anchor="middle" stroke="#111" stroke-width="0.22">0.2</text>
<line x1="576.42" y1="419.2" x2="576.42" y2="422.8" stroke="#333" stroke-width="1.1"/>
<text x="576.42" y="433.8" font-size="9.6" fill="#111" text-anchor="middle" stroke="#111" stroke-width="0.22">0.4</text>
<line x1="606.38" y1="419.2" x2="606.38" y2="422.8" stroke="#333" stroke-width="1.1"/>
<text x="606.38" y="433.8" font-size="9.6" fill="#111" text-anchor="middle" stroke="#111" stroke-width="0.22">0.6</text>
<line x1="636.34" y1="419.2" x2="636.34" y2="422.8" stroke="#333" stroke-width="1.1"/>
<text x="636.34" y="433.8" font-size="9.6" fill="#111" text-anchor="middle" stroke="#111" stroke-width="0.22">0.8</text>
<line x1="666.3" y1="419.2" x2="666.3" y2="422.8" stroke="#333" stroke-width="1.1"/>
<text x="666.3" y="433.8" font-size="9.6" fill="#111" text-anchor="middle" stroke="#111" stroke-width="0.22">1.0</text>
<text x="576.42" y="447.5" font-size="12" fill="#111" text-anchor="middle" stroke="#111" stroke-width="0.22">Correlation</text>
<text transform="translate(469.5,327) rotate(-90)" font-size="11.8" fill="#111" text-anchor="middle" stroke="#111" stroke-width="0.22">Probability density</text>
<line x1="527.7" y1="281.5" x2="527.7" y2="419.2" stroke="#ff0000" stroke-width="2.1"/>
<text x="538" y="286.3" font-size="12.2" fill="#ff0000" stroke="#ff0000" stroke-width="0.22">Vol years</text>
<line x1="555.1" y1="373" x2="555.1" y2="419.2" stroke="#0c0cf5" stroke-width="1.2"/>
<line x1="570.7" y1="373" x2="570.7" y2="419.2" stroke="#0c0cf5" stroke-width="1.2"/>
<text x="552.8" y="372.1" font-size="9.6" fill="#0c0cf5" stroke="#0c0cf5" stroke-width="0.22">1%</text>
<text x="573.3" y="372.1" font-size="9.6" fill="#0c0cf5" stroke="#0c0cf5" stroke-width="0.22">5%</text>
</svg></body></html>
